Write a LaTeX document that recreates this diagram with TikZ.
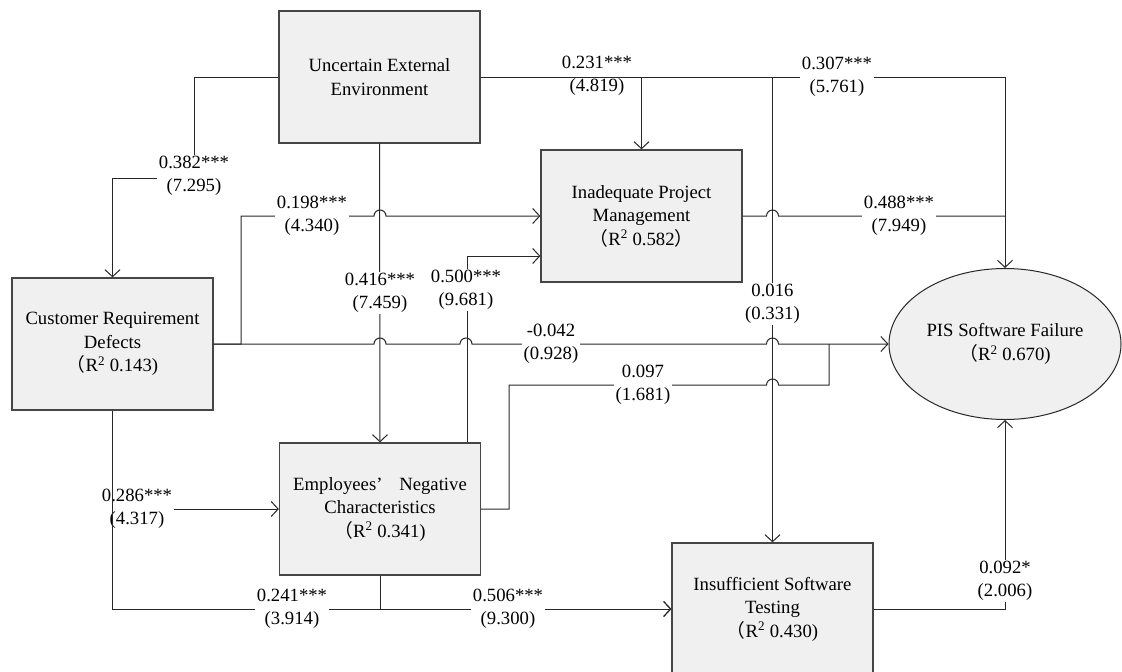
\documentclass[tikz,border=0pt]{standalone}
\usepackage{fontspec}
\setmainfont{Liberation Serif}
\newfontfamily\cjk{Noto Sans CJK SC}
\usetikzlibrary{arrows.meta,shapes.geometric}
\definecolor{ln}{RGB}{40,40,40}
\definecolor{bx}{RGB}{240,240,240}
\definecolor{bd}{RGB}{70,70,70}
\newcommand\fsz{\fontsize{18.7pt}{23.5pt}\selectfont}
\newcommand\lp{{\cjk （}}
\newcommand\rp{{\cjk ）}}
\tikzset{
 box/.style={draw=bd, line width=1.3pt, fill=bx, minimum width=201pt, minimum height=132pt, align=center, inner sep=0pt, font=\fsz},
 ell/.style={ellipse, draw=ln, line width=1pt, fill=bx, minimum width=232pt, minimum height=151pt, inner sep=0pt, align=center, font=\fsz},
 conn/.style={draw=ln, line width=1pt, -{Straight Barb[length=7pt,width=15pt]}},
 plain/.style={draw=ln, line width=1pt},
 lbl/.style={fill=white, inner sep=1.5pt, align=center, font=\fsz},
 lbln/.style={lbl, fill=none}
}
\begin{document}
\begin{tikzpicture}[x=1pt,y=-1pt]
\useasboundingbox (0,0) rectangle (1122,672);
\clip (0,0) rectangle (1122,672);
% nodes
\node[box] (uee) at (379.5,77) {Uncertain External\\Environment};
\node[box] (crd) at (112.5,344) {Customer Requirement\\Defects\\\lp R\textsuperscript{2} 0.143)};
\node[box] (ipm) at (641.5,216) {Inadequate Project\\Management\\\lp R\textsuperscript{2} 0.582\rp};
\node[box] (emp) at (380,509) {Employees’\hspace{0.9em}Negative\\Characteristics\\\lp R\textsuperscript{2} 0.341)};
\node[box] (ist) at (772.5,609) {Insufficient Software\\Testing\\\lp R\textsuperscript{2} 0.430)};
\node[ell] (pis) at (1005,344) {PIS Software Failure\\\lp R\textsuperscript{2} 0.670)};
\coordinate (j1) at (829,344);

% UEE -> CRD
\draw[conn] (uee.west) -| (194,178) -| (crd.north);
\node[lbl] (l1) at (194,176) {0.382***\\(7.295)};
% UEE -> EMP
\draw[conn] (uee.south) -- (emp.north);
% UEE -> IPM
\draw[conn] (uee.east) -| (ipm.north);
% UEE -> PIS
\draw[conn] (uee.east) -| (pis.north);
% UEE -> IST
\draw[conn] (uee.east -| ist.north) -- (ist.north);
% CRD -> IPM
\draw[conn] (crd.east) -| (241,216) -- (374,216) arc[start angle=180,end angle=0,radius=6pt] -- (ipm.west);
% CRD -> PIS
\draw[conn] (crd.east) -- (374,344) arc[start angle=180,end angle=0,radius=6pt]
  -- (460,344) arc[start angle=180,end angle=0,radius=6pt]
  -- (766.5,344) arc[start angle=180,end angle=0,radius=6pt] -- (pis.west);
% EMP -> PIS
\draw[plain] (emp.east) -| (509,385) -- (766.5,385) arc[start angle=180,end angle=0,radius=6pt] -| (j1);
% EMP -> IPM
\draw[conn] ([xshift=-14pt]emp.north east) |- ([yshift=-40pt]ipm.west);
% IPM -> PIS
\draw[plain] (ipm.east) -- (766.5,216) arc[start angle=180,end angle=0,radius=6pt] -- (ipm.east -| pis.north);
% IST -> PIS
\draw[conn] (ist.east) -| (pis.south);
% CRD -> EMP
\draw[conn] (crd.south |- emp.west) -- (emp.west);
\node[lbl] (l8) at (137,509) {0.286***\\(4.317)};
% CRD -> IST
\draw[conn] (crd.south) |- (ist.west);
% EMP -> IST
\draw[conn] (emp.south) |- (ist.west);

% labels
\node[lbl] (l2) at (312,216) {0.198***\\(4.340)};
\node[lbl] (l3) at (380,293) {0.416***\\(7.459)};
\node[lbl] (l4) at (466,290) {0.500***\\(9.681)};
\node[lbln] (l5) at (597,76) {0.231***\\(4.819)};
\node[lbl] (l6) at (837,77) {0.307***\\(5.761)};
\node[lbl] (l7) at (899,216) {0.488***\\(7.949)};
\node[lbl] (l9) at (772.5,304) {0.016\\(0.331)};
\node[lbl] (l10) at (551,344) {-0.042\\(0.928)};
\node[lbl] (l11) at (643,385) {0.097\\(1.681)};
\node[lbl] (l12) at (292,609) {0.241***\\(3.914)};
\node[lbl] (l13) at (508,609) {0.506***\\(9.300)};
\node[lbl] (l14) at (1005,581) {0.092*\\(2.006)};
\end{tikzpicture}
\end{document}
